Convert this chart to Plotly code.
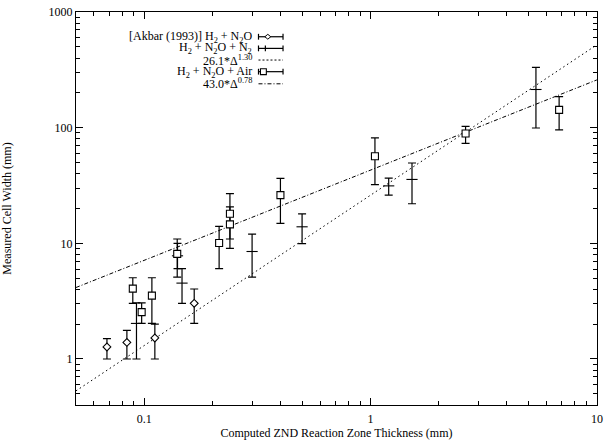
import numpy as np
import plotly.graph_objects as go

# [Akbar (1993)] H2 + N2O  (diamonds)
akbar_x = [0.0685, 0.0839, 0.1115, 0.1664]
akbar_y = [1.27, 1.39, 1.52, 3.03]
akbar_hi = [1.50, 1.77, 2.00, 4.03]
akbar_lo = [1.00, 1.00, 1.00, 2.03]

# H2 + N2O + N2  (plain bars with a centre tick)
n2_x = [0.0925, 0.1404, 0.147, 0.2998, 0.4985, 1.203, 1.525, 5.38]
n2_y = [2.03, 7.8, 4.53, 8.5, 13.9, 31.4, 35.7, 214]
n2_hi = [3.06, 10.0, 6.04, 12.0, 18.0, 36.7, 49.5, 333]
n2_lo = [1.00, 6.04, 3.03, 5.1, 9.94, 26.1, 22.0, 99.4]

# H2 + N2O + Air  (squares)
air_x = [0.0891, 0.0975, 0.1082, 0.140, 0.2144, 0.2393, 0.2393, 0.40, 1.046, 2.63, 6.81]
air_y = [4.06, 2.54, 3.53, 8.1, 10.06, 18.0, 14.6, 26.1, 56.6, 89.1, 142.6]
air_hi = [5.04, 3.06, 5.04, 10.9, 14.0, 26.9, 20.7, 36.4, 81.5, 102.5, 185.8]
air_lo = [3.03, 2.03, 2.03, 5.1, 6.04, 10.9, 9.03, 14.9, 32.2, 73.1, 95.7]

# power-law fits, read at the ends of the x range
fit_x = [0.05, 10]
fit1_y = [0.53, 521]   # 26.1*D^1.30
fit2_y = [4.15, 259]   # 43.0*D^0.78

x_ticks = [0.1, 1, 10]
x_labels = ["0.1", "1", "10"]
y_ticks = [1, 10, 100, 1000]
y_labels = ["1", "10", "100", "1000"]
x_minor = [d * m for d in (0.01, 0.1, 1) for m in range(2, 10) if 0.05 < d * m < 10]
y_minor = [d * m for d in (0.1, 1, 10, 100) for m in range(2, 10) if 0.4 < d * m < 1000]

FONT = "Liberation Serif"
L, R, T, B = 66, 12, 5, 32
W, H = 609, 442
PW, PH = W - L - R, H - T - B


def fx(px):
    return (px - L) / PW


def fy(py):
    return (H - B - py) / PH


def err_trace(x, y, hi, lo, symbol, size, fill="white"):
    x, y, hi, lo = map(np.asarray, (x, y, hi, lo))
    return go.Scatter(
        x=x, y=y, mode="markers",
        marker=dict(symbol=symbol, size=size, color=fill,
                    line=dict(width=1.1, color="black")),
        error_y=dict(type="data", symmetric=False, array=hi - y, arrayminus=y - lo,
                     color="black", thickness=1.2, width=4),
        showlegend=False, hoverinfo="skip",
    )


fig = go.Figure()
fig.add_trace(go.Scatter(x=fit_x, y=fit1_y, mode="lines", showlegend=False, hoverinfo="skip",
                         line=dict(color="black", width=1, dash="1.5px,3px")))
fig.add_trace(go.Scatter(x=fit_x, y=fit2_y, mode="lines", showlegend=False, hoverinfo="skip",
                         line=dict(color="black", width=1, dash="4px,2px,1px,2px")))
fig.add_trace(err_trace(n2_x, n2_y, n2_hi, n2_lo, "line-ew", 8, fill="black"))
fig.add_trace(err_trace(akbar_x, akbar_y, akbar_hi, akbar_lo, "diamond", 6))
fig.add_trace(err_trace(air_x, air_y, air_hi, air_lo, "square", 7))

# legend, drawn by hand so the samples sit right of the labels
rows = [
    ("[Akbar (1993)] H<sub>2</sub> + N<sub>2</sub>O", "diamond"),
    ("H<sub>2</sub> + N<sub>2</sub>O + N<sub>2</sub>", "tick"),
    ("26.1*Δ<sup>1.30</sup>", "dot"),
    ("H<sub>2</sub> + N<sub>2</sub>O + Air", "square"),
    ("43.0*Δ<sup>0.78</sup>", "dashdot"),
]
row_y = [30.5, 42.5, 54.5, 66.5, 79]
shapes = []
annotations = []
for (label, kind), py in zip(rows, row_y):
    annotations.append(dict(x=fx(247), y=fy(py), xref="paper", yref="paper", text=label,
                            showarrow=False, xanchor="right", yanchor="middle",
                            font=dict(family=FONT, size=12, color="black")))
    line = dict(type="line", xref="paper", yref="paper", x0=fx(252), x1=fx(277),
                y0=fy(py), y1=fy(py), line=dict(color="black", width=1))
    if kind == "dot":
        line["line"]["dash"] = "2px,2px"
        shapes.append(line)
        continue
    if kind == "dashdot":
        line["line"]["dash"] = "4px,2px,1px,2px"
        shapes.append(line)
        continue
    line["line"]["width"] = 1.2
    shapes.append(line)
    for cx in (252, 277):
        shapes.append(dict(type="line", xref="paper", yref="paper", x0=fx(cx), x1=fx(cx),
                           y0=fy(py - 3), y1=fy(py + 3), line=dict(color="black", width=1.2)))
    if kind == "tick":
        shapes.append(dict(type="line", xref="paper", yref="paper", x0=fx(259), x1=fx(259),
                           y0=fy(py - 3), y1=fy(py + 3), line=dict(color="black", width=1.2)))
    elif kind == "square":
        shapes.append(dict(type="rect", xref="paper", yref="paper", x0=fx(254), x1=fx(260),
                           y0=fy(py - 3), y1=fy(py + 3), fillcolor="white",
                           line=dict(color="black", width=1.1)))
    elif kind == "diamond":
        cx = 261.5
        path = (f"M {fx(cx - 3)} {fy(py)} L {fx(cx)} {fy(py - 2.5)} "
                f"L {fx(cx + 3)} {fy(py)} L {fx(cx)} {fy(py + 2.5)} Z")
        shapes.append(dict(type="path", xref="paper", yref="paper", path=path,
                           fillcolor="white", line=dict(color="black", width=1)))

axis_common = dict(
    type="log", ticks="inside", ticklen=7, tickwidth=1, tickcolor="black",
    showline=True, linecolor="black", linewidth=1, mirror="ticks",
    showgrid=False, zeroline=False, ticklabeloverflow="allow",
    tickfont=dict(family=FONT, size=12, color="black"),
)

fig.update_layout(
    width=W, height=H,
    margin=dict(l=L, r=R, t=T, b=B),
    paper_bgcolor="white", plot_bgcolor="white",
    font=dict(family=FONT, size=12, color="black"),
    showlegend=False,
    hovermode=False,
    shapes=shapes,
    annotations=annotations,
    xaxis=dict(
        axis_common, range=[np.log10(0.05), 1.0005],
        tickvals=x_ticks, ticktext=x_labels, ticklabelstandoff=3,
        minor=dict(tickvals=x_minor, ticks="inside", ticklen=4, tickcolor="black", showgrid=False),
        title=dict(text="Computed ZND Reaction Zone Thickness (mm)", standoff=2,
                   font=dict(family=FONT, size=12)),
    ),
    yaxis=dict(
        axis_common, range=[np.log10(0.4), 3.0005],
        tickvals=y_ticks, ticktext=y_labels,
        minor=dict(tickvals=y_minor, ticks="inside", ticklen=4, tickcolor="black", showgrid=False),
        title=dict(text="Measured Cell Width (mm)", standoff=35,
                   font=dict(family=FONT, size=12)),
    ),
)

# the page body has an 8px default margin; drop it so the figure sits at the corner
fig.write_html("out.html", config={"displayModeBar": False},
               post_script="document.body.style.margin = '0';")
